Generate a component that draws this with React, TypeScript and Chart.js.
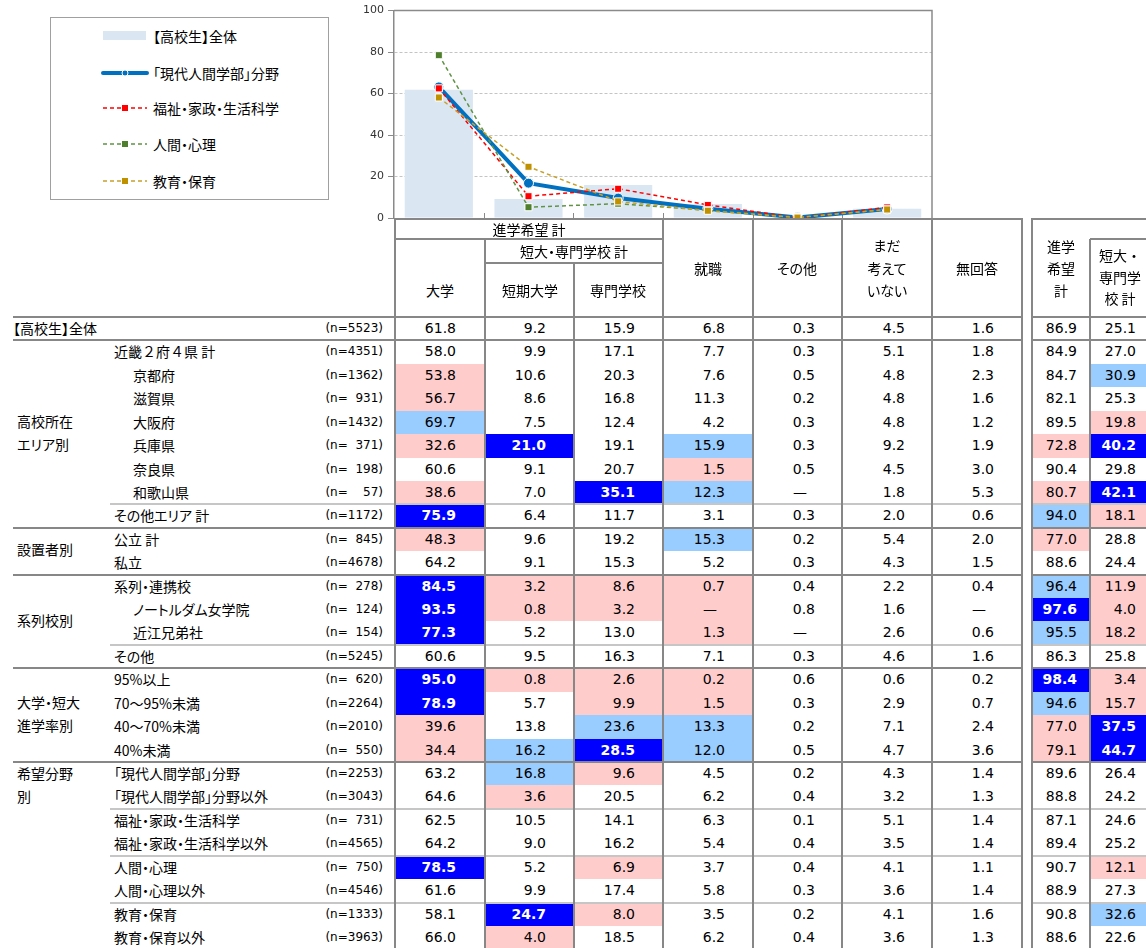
import React, { useEffect, useRef } from "react";
import { Chart, registerables } from "chart.js";
Chart.register(...registerables);

// ---------- data ----------
const categories = ["大学", "短期大学", "専門学校", "就職", "その他", "まだ考えていない"];
const yTickStep = 20;
const yMax = 100;

const rowLabels = [
  "【高校生】全体", "近畿２府４県 計", "京都府", "滋賀県", "大阪府", "兵庫県", "奈良県", "和歌山県", "その他エリア 計",
  "公立 計", "私立", "系列・連携校", "ノートルダム女学院", "近江兄弟社", "その他",
  "95%以上", "70～95%未満", "40～70%未満", "40%未満",
  "「現代人間学部」分野", "「現代人間学部」分野以外", "福祉・家政・生活科学", "福祉・家政・生活科学以外",
  "人間・心理", "人間・心理以外", "教育・保育", "教育・保育以外",
];
const rowIndent = [0, 1, 2, 2, 2, 2, 2, 2, 1, 1, 1, 1, 2, 2, 1, 1, 1, 1, 1, 1, 1, 1, 1, 1, 1, 1, 1];
const rowN = [
  "(n=5523)", "(n=4351)", "(n=1362)", "(n=  931)", "(n=1432)", "(n=  371)", "(n=  198)", "(n=    57)", "(n=1172)",
  "(n=  845)", "(n=4678)", "(n=  278)", "(n=  124)", "(n=  154)", "(n=5245)",
  "(n=  620)", "(n=2264)", "(n=2010)", "(n=  550)",
  "(n=2253)", "(n=3043)", "(n=  731)", "(n=4565)", "(n=  750)", "(n=4546)", "(n=1333)", "(n=3963)",
];

const univ = [61.8, 58.0, 53.8, 56.7, 69.7, 32.6, 60.6, 38.6, 75.9, 48.3, 64.2, 84.5, 93.5, 77.3, 60.6, 95.0, 78.9, 39.6, 34.4, 63.2, 64.6, 62.5, 64.2, 78.5, 61.6, 58.1, 66.0];
const juniorCollege = [9.2, 9.9, 10.6, 8.6, 7.5, 21.0, 9.1, 7.0, 6.4, 9.6, 9.1, 3.2, 0.8, 5.2, 9.5, 0.8, 5.7, 13.8, 16.2, 16.8, 3.6, 10.5, 9.0, 5.2, 9.9, 24.7, 4.0];
const vocational = [15.9, 17.1, 20.3, 16.8, 12.4, 19.1, 20.7, 35.1, 11.7, 19.2, 15.3, 8.6, 3.2, 13.0, 16.3, 2.6, 9.9, 23.6, 28.5, 9.6, 20.5, 14.1, 16.2, 6.9, 17.4, 8.0, 18.5];
const employment = [6.8, 7.7, 7.6, 11.3, 4.2, 15.9, 1.5, 12.3, 3.1, 15.3, 5.2, 0.7, null, 1.3, 7.1, 0.2, 1.5, 13.3, 12.0, 4.5, 6.2, 6.3, 5.4, 3.7, 5.8, 3.5, 6.2];
const otherPath = [0.3, 0.3, 0.5, 0.2, 0.3, 0.3, 0.5, null, 0.3, 0.2, 0.3, 0.4, 0.8, null, 0.3, 0.6, 0.3, 0.2, 0.5, 0.2, 0.4, 0.1, 0.4, 0.4, 0.3, 0.2, 0.4];
const undecided = [4.5, 5.1, 4.8, 4.8, 4.8, 9.2, 4.5, 1.8, 2.0, 5.4, 4.3, 2.2, 1.6, 2.6, 4.6, 0.6, 2.9, 7.1, 4.7, 4.3, 3.2, 5.1, 3.5, 4.1, 3.6, 4.1, 3.6];
const noAnswer = [1.6, 1.8, 2.3, 1.6, 1.2, 1.9, 3.0, 5.3, 0.6, 2.0, 1.5, 0.4, null, 0.6, 1.6, 0.2, 0.7, 2.4, 3.6, 1.4, 1.3, 1.4, 1.4, 1.1, 1.4, 1.6, 1.3];
const advanceTotal = [86.9, 84.9, 84.7, 82.1, 89.5, 72.8, 90.4, 80.7, 94.0, 77.0, 88.6, 96.4, 97.6, 95.5, 86.3, 98.4, 94.6, 77.0, 79.1, 89.6, 88.8, 87.1, 89.4, 90.7, 88.9, 90.8, 88.6];
const jcVocTotal = [25.1, 27.0, 30.9, 25.3, 19.8, 40.2, 29.8, 42.1, 18.1, 28.8, 24.4, 11.9, 4.0, 18.2, 25.8, 3.4, 15.7, 37.5, 44.7, 26.4, 24.2, 24.6, 25.2, 12.1, 27.3, 32.6, 22.6];

// highlight codes per row, one char per column: B = dark blue, L = light blue, P = pink
const highlights = [
  ".........", ".........", "P.......L", "P........", "L.......P", "PB.L...PB", "...P.....", "P.BL...PB", "B......LP",
  "P..L...P.", ".........", "BPPP...LP", "BPPP...BP", "B..P...LP", ".........",
  "BPPP...BP", "B.PP...LP", "P.LL...PB", "PLBL...PB",
  ".LP......", ".P.......", ".........", ".........", "B.P.....P", ".........", ".BP.....L", ".P.......",
];

const groupNames = [["高校所在", "エリア別"], ["設置者別"], ["系列校別"], ["大学・短大", "進学率別"], ["希望分野", "別"]];
const groupStart = [1, 9, 11, 15, 19];
const groupEnd = [8, 10, 14, 18, 26];
const groupTopAligned = [false, false, false, false, true];
const subSeparators = [8, 14, 21, 23, 25];

const chartSeriesRows = [19, 21, 23, 25];
const barRow = 0;

// ---------- styles ----------
const FONT_JP = "'Noto Sans CJK JP', 'Noto Sans', sans-serif";
const FONT_NUM = "'DejaVu Sans', 'Noto Sans CJK JP', sans-serif";
const DK = "#878787";
const LT = "#c6c6c6";
const FILL: Record<string, string> = { B: "#0000ff", L: "#99ccff", P: "#ffcccc" };

const tableCols = [univ, juniorCollege, vocational, employment, otherPath, undecided, noAnswer, advanceTotal, jcVocTotal];
const colBounds = [
  [395, 485], [485, 574], [574, 663], [663, 753], [753, 842], [842, 932], [932, 1022], [1032, 1090], [1090, 1150],
];
const colPad = [29, 28, 28, 28, 27, 27, 28, 13, 14];
const ROW0 = 317;
const RH = 23.42;
const rowTop = (i: number) => ROW0 + i * RH;

const seriesStyles = [
  { line: "#0070c0", point: "#0070c0", width: 4, dash: [] as number[], style: "circle", radius: 5, order: 4 },
  { line: "#ff0000", point: "#ff0000", width: 1.5, dash: [4, 3], style: "rect", radius: 5, order: 3 },
  { line: "#5f9443", point: "#4f7f2c", width: 1.5, dash: [4, 3], style: "rect", radius: 5, order: 2 },
  { line: "#c8a028", point: "#bf9000", width: 1.5, dash: [4, 3], style: "rect", radius: 5, order: 1 },
];
const barColor = "#dbe6f3";

const chartCols = tableCols.slice(0, categories.length);
const rowValues = (r: number) => chartCols.map((c) => (c[r] == null ? 0 : (c[r] as number)));

const framePlugin = {
  id: "frame",
  beforeDatasetsDraw(chart: any) {
    const { ctx, chartArea } = chart;
    const xs = chart.scales.x;
    ctx.save();
    ctx.strokeStyle = "#8a8a8a";
    ctx.lineWidth = 1.5;
    ctx.beginPath();
    ctx.moveTo(chartArea.left, chartArea.top);
    ctx.lineTo(chartArea.right, chartArea.top);
    ctx.lineTo(chartArea.right, chartArea.bottom);
    ctx.stroke();
    ctx.lineWidth = 1;
    for (let i = 1; i < categories.length; i++) {
      const x = Math.round((xs.getPixelForValue(i - 1) + xs.getPixelForValue(i)) / 2) + 0.5;
      ctx.beginPath();
      ctx.moveTo(x, chartArea.bottom);
      ctx.lineTo(x, chartArea.bottom - 5);
      ctx.stroke();
    }
    ctx.restore();
  },
};

function pos(left: number, top: number, extra: any = {}) {
  return { position: "absolute" as const, left, top, ...extra };
}
function H(key: string, x1: number, x2: number, y: number, c: string, w = 2) {
  return <div key={key} style={pos(x1, y - w / 2, { width: x2 - x1, height: w, background: c })} />;
}
function V(key: string, x: number, y1: number, y2: number, c: string, w = 2) {
  return <div key={key} style={pos(x - w / 2, y1, { width: w, height: y2 - y1, background: c })} />;
}
function CText(key: string, text: string, cx: number, cy: number, extra: any = {}) {
  return (
    <div
      key={key}
      style={pos(cx - 60, cy - 11, {
        width: 120,
        height: 22,
        lineHeight: "22px",
        textAlign: "center",
        fontFamily: FONT_JP,
        fontSize: 14,
        color: "#000",
        whiteSpace: "nowrap",
        fontFeatureSettings: '"palt"',
        ...extra,
      })}
    >
      {text}
    </div>
  );
}

function Legend() {
  const items = [
    { label: rowLabels[barRow], kind: "bar" },
    ...chartSeriesRows.map((r, i) => ({ label: rowLabels[r], kind: "line", s: seriesStyles[i] })),
  ];
  const ys = [36, 73, 108, 144, 181];
  return (
    <div>
      <div style={pos(50, 17, { width: 279, height: 183, border: "1px solid #a0a0a0", boxSizing: "border-box" })} />
      {items.map((it: any, i) => (
        <React.Fragment key={"lg" + i}>
          <svg style={pos(98, ys[i] - 8)} width={54} height={16}>
            {it.kind === "bar" ? (
              <rect x={5} y={3} width={43} height={9} fill={barColor} />
            ) : it.s.style === "circle" ? (
              <>
                <line x1={5} y1={8} x2={49} y2={8} stroke={it.s.line} strokeWidth={4} strokeLinecap="round" />
                <circle cx={27} cy={8} r={3} fill={it.s.point} stroke="#fff" strokeWidth={1} />
              </>
            ) : (
              <>
                <line x1={5} y1={8} x2={49} y2={8} stroke={it.s.line} strokeWidth={1.5} strokeDasharray="4 3" />
                <rect x={23.5} y={4.5} width={7} height={7} fill={it.s.point} stroke="#fff" strokeWidth={1} />
              </>
            )}
          </svg>
          <div
            style={pos(153, ys[i] - 11, {
              height: 22,
              lineHeight: "22px",
              fontFamily: FONT_JP,
              fontSize: 14,
              color: "#000",
              whiteSpace: "nowrap",
              fontFeatureSettings: '"palt"',
            })}
          >
            {it.label}
          </div>
        </React.Fragment>
      ))}
    </div>
  );
}

function Table() {
  const els: any[] = [];
  for (let r = 0; r < rowLabels.length; r++) {
    const top = rowTop(r);
    for (let c = 0; c < tableCols.length; c++) {
      const [x1, x2] = colBounds[c];
      const code = highlights[r][c];
      const v = tableCols[c][r];
      const isDash = v == null;
      els.push(
        <div
          key={`cell${r}_${c}`}
          style={pos(x1 + 1, top, {
            width: x2 - x1 - 2,
            height: RH,
            lineHeight: RH + "px",
            background: code !== "." ? FILL[code] : "transparent",
            color: code === "B" ? "#fff" : "#000",
            fontWeight: code === "B" ? "bold" : "normal",
            textAlign: "right",
            paddingRight: colPad[c] - 1 + (isDash ? 8 : 0),
            boxSizing: "border-box",
            fontFamily: FONT_NUM,
            fontSize: 14,
            whiteSpace: "nowrap",
          })}
        >
          {isDash ? "—" : (v as number).toFixed(1)}
        </div>
      );
    }
    const lx = rowIndent[r] === 0 ? 13 : rowIndent[r] === 1 ? 114 : 133;
    const hasFullDigits = /[０-９]/.test(rowLabels[r]);
    els.push(
      <div
        key={`lab${r}`}
        style={pos(lx, top, {
          height: RH,
          lineHeight: RH + "px",
          fontFamily: FONT_JP,
          fontSize: 14,
          color: "#000",
          whiteSpace: "nowrap",
          fontFeatureSettings: hasFullDigits ? "normal" : '"palt"',
        })}
      >
        {rowLabels[r]}
      </div>
    );
    els.push(
      <div
        key={`n${r}`}
        style={pos(293, top, {
          width: 90,
          height: RH,
          lineHeight: RH + "px",
          fontFamily: FONT_NUM,
          fontSize: 12,
          color: "#000",
          textAlign: "right",
          whiteSpace: "pre",
        })}
      >
        {rowN[r]}
      </div>
    );
  }
  groupNames.forEach((lines, g) => {
    const y1 = rowTop(groupStart[g]);
    const y2 = rowTop(groupEnd[g] + 1);
    const blockH = lines.length * RH;
    const top = groupTopAligned[g] ? y1 : (y1 + y2) / 2 - blockH / 2 - 1;
    lines.forEach((t, k) => {
      els.push(
        <div
          key={`g${g}_${k}`}
          style={pos(17, top + k * RH, {
            height: RH,
            lineHeight: RH + "px",
            fontFamily: FONT_JP,
            fontSize: 14,
            color: "#000",
            whiteSpace: "nowrap",
            fontFeatureSettings: '"palt"',
          })}
        >
          {t}
        </div>
      );
    });
  });

  els.push(CText("h1", "進学希望 計", 529, 229));
  els.push(CText("h2", "短大・専門学校 計", 574, 251));
  els.push(CText("h3", categories[0], 440, 290));
  els.push(CText("h4", categories[1], 530, 290));
  els.push(CText("h5", categories[2], 618, 290));
  els.push(CText("h6", categories[3], 708, 268));
  els.push(CText("h7", categories[4], 797, 268));
  els.push(CText("h8a", "まだ", 887, 245));
  els.push(CText("h8b", "考えて", 887, 268));
  els.push(CText("h8c", "いない", 887, 290));
  els.push(CText("h9", "無回答", 977, 268));
  els.push(CText("h10a", "進学", 1061, 246));
  els.push(CText("h10b", "希望", 1061, 268));
  els.push(CText("h10c", "計", 1061, 290));
  els.push(CText("h11a", "短大・", 1120, 255, { fontFeatureSettings: "normal" }));
  els.push(CText("h11b", "専門学", 1120, 277));
  els.push(CText("h11c", "校 計", 1120, 298));

  const bottomY = 949;
  els.push(H("ht1", 394, 1023, 219, DK));
  els.push(H("ht2", 1031, 1146, 219, DK));
  els.push(H("ht3", 395, 663, 239, DK));
  els.push(H("ht4", 485, 663, 263, DK));
  els.push(H("ht5", 1090, 1146, 239, DK));
  els.push(H("hb1", 13, 1023, rowTop(0), DK));
  els.push(H("hb2", 1031, 1146, rowTop(0), DK));
  groupStart.forEach((r, i) => {
    els.push(H(`gs${i}a`, 13, 1023, rowTop(r), DK));
    els.push(H(`gs${i}b`, 1031, 1146, rowTop(r), DK));
  });
  subSeparators.forEach((r, i) => {
    els.push(H(`ss${i}a`, 110, 1022, rowTop(r), LT));
    els.push(H(`ss${i}b`, 1032, 1146, rowTop(r), LT));
  });
  els.push(V("v0", 395, 218, bottomY, DK));
  els.push(V("v1", 485, 239, bottomY, DK));
  els.push(V("v2", 574, 263, bottomY, DK));
  [663, 753, 842, 932, 1022, 1032].forEach((x, i) => els.push(V(`vv${i}`, x, 218, bottomY, DK)));
  els.push(V("v9", 1090, 239, bottomY, DK));
  return <>{els}</>;
}

export default function App() {
  const ref = useRef<HTMLCanvasElement>(null);
  useEffect(() => {
    const datasets: any[] = chartSeriesRows.map((r, i) => {
      const s = seriesStyles[i];
      return {
        type: "line",
        label: rowLabels[r],
        data: rowValues(r),
        borderColor: s.line,
        borderWidth: s.width,
        borderDash: s.dash,
        pointStyle: s.style,
        pointRadius: s.radius,
        pointBackgroundColor: s.point,
        pointBorderColor: "#ffffff",
        pointBorderWidth: 1,
        tension: 0,
        fill: false,
        order: s.order,
      };
    });
    datasets.push({
      type: "bar",
      label: rowLabels[barRow],
      data: rowValues(barRow),
      backgroundColor: barColor,
      barPercentage: 0.76,
      categoryPercentage: 1,
      order: 5,
    });
    const chart = new Chart(ref.current as HTMLCanvasElement, {
      type: "bar",
      data: { labels: categories, datasets },
      options: {
        animation: false,
        responsive: false,
        maintainAspectRatio: false,
        layout: { padding: { top: 10, bottom: 12, left: 0, right: 8 } },
        plugins: { legend: { display: false }, tooltip: { enabled: false } },
        scales: {
          x: { display: false, offset: true },
          y: {
            min: 0,
            max: yMax,
            ticks: { stepSize: yTickStep, color: "#333", font: { family: FONT_NUM, size: 11 }, padding: 4 },
            grid: { color: "#c4c4c4", tickColor: "#8a8a8a", tickLength: 6, tickBorderDash: [] },
            border: { display: true, color: "#8a8a8a", width: 1.5, dash: [3, 2] },
            afterFit: (s: any) => {
              s.width = 54;
            },
          },
        },
      } as any,
      plugins: [framePlugin],
    } as any);
    return () => chart.destroy();
  }, []);

  return (
    <div style={{ position: "absolute", left: 0, top: 0, width: 1146, height: 948, overflow: "hidden", background: "#fff" }}>
      <canvas ref={ref} width={600} height={230} style={{ position: "absolute", left: 340, top: 0, width: 600, height: 230 }} />
      <Legend />
      <Table />
    </div>
  );
}
